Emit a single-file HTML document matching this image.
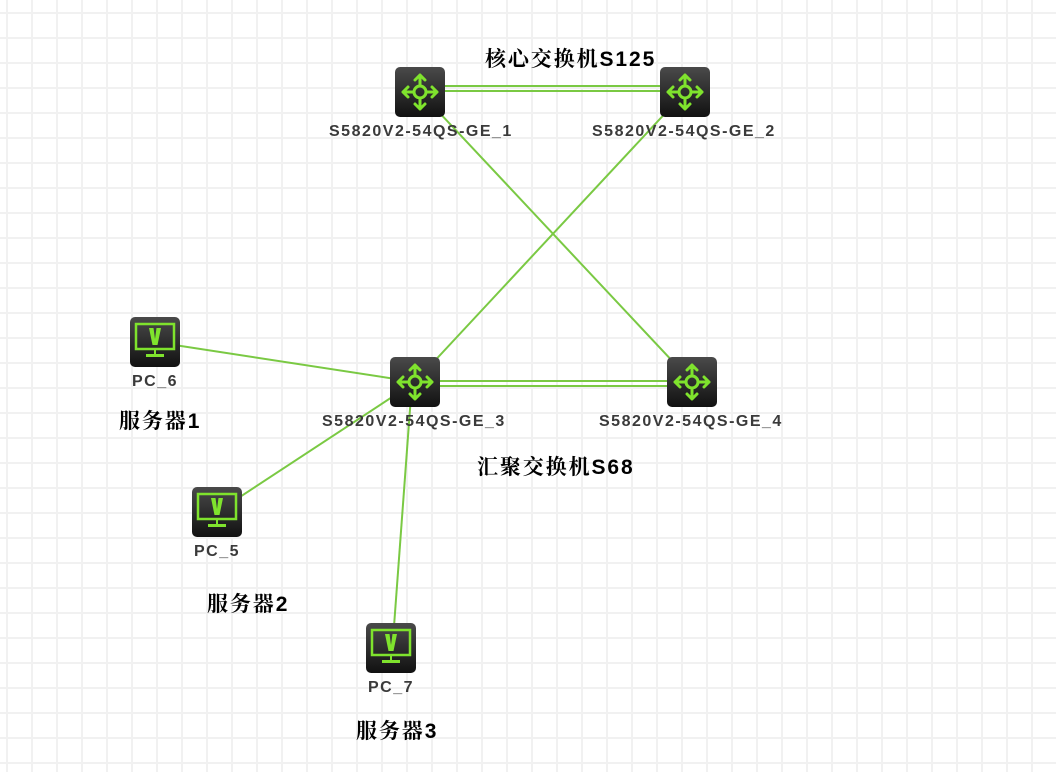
<!DOCTYPE html>
<html><head><meta charset="utf-8"><style>
body{margin:0;width:1056px;height:772px;overflow:hidden;background:#fff;
background-image:linear-gradient(to right,#f1f1f1 2px,transparent 2px),linear-gradient(to bottom,#f1f1f1 2px,transparent 2px);
background-size:25px 25px;background-position:6px 12px;font-family:"Liberation Sans","Noto Sans CJK SC",sans-serif;position:relative}
.t{position:absolute;font-weight:bold;font-size:16px;letter-spacing:1.5px;color:#3a3a3a;white-space:nowrap}
.c{position:absolute;font-weight:bold;font-size:21px;letter-spacing:1.9px;color:#000;white-space:nowrap;font-family:"Liberation Sans","Noto Serif CJK SC",serif}
</style></head><body>
<svg width="1056" height="772" style="position:absolute;left:0;top:0">
<defs>
<linearGradient id="g" x1="0" y1="0" x2="0" y2="1"><stop offset="0" stop-color="#4a4a4a"/><stop offset="1" stop-color="#111"/></linearGradient>
<g id="sw"><rect width="50" height="50" rx="5" fill="url(#g)"/>
<g stroke="#7fe32d" stroke-width="3" fill="none" stroke-linecap="round" stroke-linejoin="round">
<circle cx="25" cy="25" r="6"/>
<path d="M25 19V8M25 31V42M19 25H8M31 25H42M20 13L25 8L30 13M20 37L25 42L30 37M13 20L8 25L13 30M37 20L42 25L37 30"/></g></g>
<g id="pc"><rect width="50" height="50" rx="5" fill="url(#g)"/>
<rect x="6" y="7" width="38" height="25" fill="none" stroke="#7fe32d" stroke-width="2.5"/>
<path d="M19 11H23.5L25 22L26.5 11H31L27.5 28H22.5Z" fill="#7fe32d"/>
<rect x="24" y="33" width="2" height="4" fill="#7fe32d"/><rect x="16" y="37" width="18" height="3" fill="#7fe32d"/></g>
</defs>
<g stroke="#7ac943" stroke-width="2" fill="none">
<line x1="420" y1="86" x2="685" y2="86"/><line x1="420" y1="91" x2="685" y2="91"/>
<line x1="415" y1="381" x2="692" y2="381"/><line x1="415" y1="386" x2="692" y2="386"/>
<line x1="420" y1="92" x2="692" y2="382"/>
<line x1="685" y1="92" x2="415" y2="382"/>
<line x1="155" y1="342" x2="415" y2="382"/>
<line x1="217" y1="512" x2="415" y2="382"/>
<line x1="393" y1="640" x2="412" y2="382"/>
</g>
<use href="#sw" x="395" y="67"/><use href="#sw" x="660" y="67"/>
<use href="#sw" x="390" y="357"/><use href="#sw" x="667" y="357"/>
<use href="#pc" x="130" y="317"/><use href="#pc" x="192" y="487"/><use href="#pc" x="366" y="623"/>
</svg>
<div class="t" style="left:329px;top:123px">S5820V2-54QS-GE_1</div>
<div class="t" style="left:592px;top:123px">S5820V2-54QS-GE_2</div>
<div class="t" style="left:322px;top:413px">S5820V2-54QS-GE_3</div>
<div class="t" style="left:599px;top:413px">S5820V2-54QS-GE_4</div>
<div class="t" style="left:132px;top:373px">PC_6</div>
<div class="t" style="left:194px;top:543px">PC_5</div>
<div class="t" style="left:368px;top:679px">PC_7</div>
<div class="c" style="left:485px;top:43px">核心交换机S125</div>
<div class="c" style="left:477px;top:451px">汇聚交换机S68</div>
<div class="c" style="left:119px;top:405px">服务器1</div>
<div class="c" style="left:207px;top:588px">服务器2</div>
<div class="c" style="left:356px;top:715px">服务器3</div>
</body></html>
